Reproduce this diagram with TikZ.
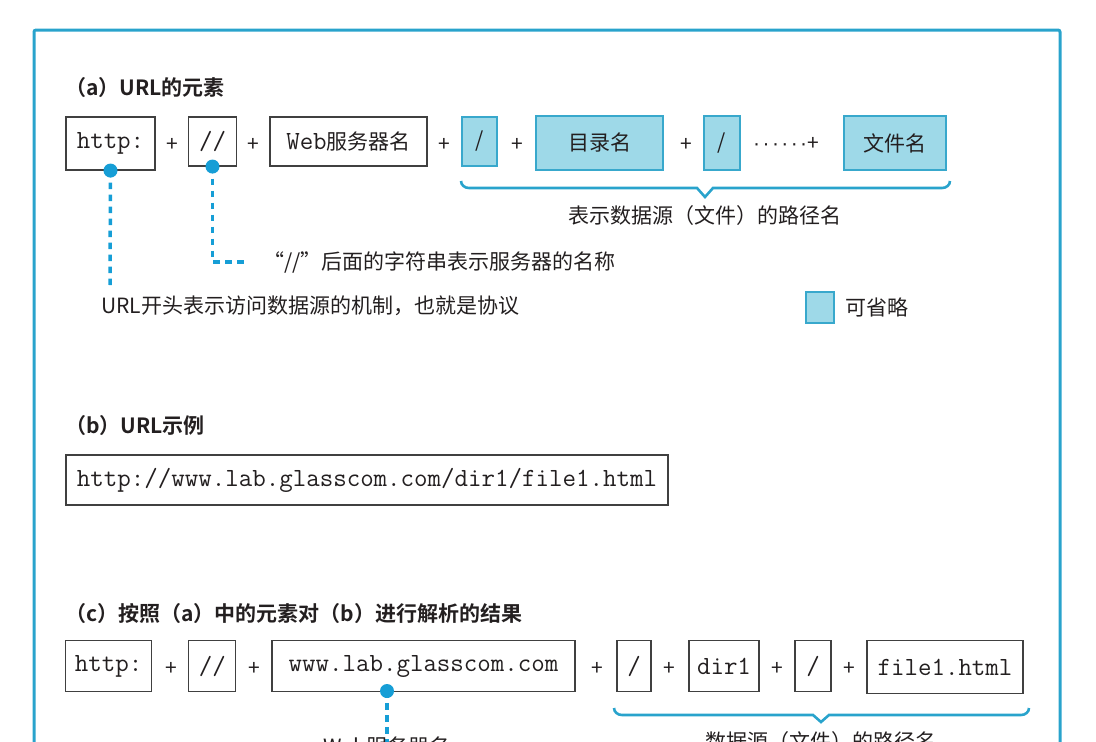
\documentclass[tikz,border=0pt]{standalone}
\usepackage{fontspec}
\setmainfont{Noto Sans CJK SC}[BoldFont={Noto Sans CJK SC Bold}]
\newfontfamily\dotfont{Liberation Sans}
\usetikzlibrary{positioning}

\definecolor{frame}{RGB}{41,163,204}
\definecolor{optfill}{RGB}{158,217,232}
\definecolor{optline}{RGB}{56,168,204}
\definecolor{dotc}{RGB}{22,158,214}
\definecolor{ink}{RGB}{35,31,32}

\newcommand\monotxt{\fontsize{26.2}{28}\selectfont\ttfamily}
\newcommand\bodytxt{\fontsize{21}{24}\selectfont\rmfamily}
\newcommand\moredots{\makebox[54pt]{\dotfont ·\hfill·\hfill·\hfill·\hfill·\hfill·}}

\begin{document}
\begin{tikzpicture}[x=1pt, y=-1pt,
  wh/.style 2 args={minimum width=#1pt, minimum height=#2pt},
  box/.style={draw=black!75, line width=1.1pt, fill=white, inner sep=0pt, text=ink, font=\monotxt},
  opt/.style={draw=optline, line width=1.1pt, fill=optfill, inner sep=0pt, text=ink, font=\bodytxt},
  head/.style={anchor=west, inner sep=0pt, text=ink, font=\fontsize{21}{24}\selectfont\bfseries},
  plus/.style={inner sep=0pt, text=ink, font=\bodytxt},
  note/.style={inner sep=0pt, text=ink, font=\bodytxt},
  dot/.style={circle, fill=dotc, minimum size=14pt, inner sep=0pt},
  lead/.style={draw=dotc, line width=3.5pt, dash pattern=on 6.5pt off 5.5pt},
  brace/.style={draw=frame, line width=2.6pt}]

\useasboundingbox (0,0) rectangle (1096,742);

% Frame (cut at the bottom)
\draw[frame, line width=3pt, rounded corners=2pt] (34,780) -- (34,30) -- (1060,30) -- (1060,780);

% (a) URL elements
\node[head] (heada) at (65,88) {（a）URL的元素};

\node[box, wh={89}{53}] (httpa) at (110.5,143.5) {http:};
\node[box, wh={48}{49}] (dsla) at (212.5,141.5) {//};
\node[box, wh={157}{49}] (srva) at (348.5,141.5) {Web{\bodytxt 服务器名}};
\node[opt, wh={35}{49}] (sla1) at (479.5,141.5) {/};
\node[opt, wh={127}{54}] (dira) at (599.5,143) {目录名};
\node[opt, wh={36}{54}] (sla2) at (722,143) {/};
\node[opt, wh={102}{54}] (filea) at (895,143) {文件名};

\foreach \x [count=\i] in {172,253,444,517,686}
  \node[plus] (pa\i) at (\x,145) {+};
\node[plus, anchor=west] (morea) at (753,144) {\moredots+};

% Brace under the path
\draw[brace] (461,181) to[out=-90,in=180] (469,188) -- (697,188) -- (705,197)
  -- (713,188) -- (942,188) to[out=0,in=-90] (950,181);
\node[note] (pathnote) at (705,216) {表示数据源（文件）的路径名};

% Notes
\coordinate (protoend) at (110,285);
\coordinate (srvend) at (247,262);
\draw[lead] (httpa.south) -- (protoend);
\draw[lead] (dsla.south) |- (srvend);
\node[dot] (dot1) at (httpa.south) {};
\node[dot] (dot2) at (dsla.south) {};
\node[note, anchor=west] (srvnote) at (263,262) {“//”后面的字符串表示服务器的名称};
\node[note, anchor=west] (protonote) at (101,306) {URL开头表示访问数据源的机制，也就是协议};

% Legend
\node[opt, wh={28}{31}] (legend) at (820,307.5) {};
\node[note, right=11pt of legend] (legendtxt) {可省略};

% (b) Example
\node[head] (headb) at (65,426) {（b）URL示例};
\node[box, wh={602}{50}] (urlb) at (367,480) {http://www.lab.glasscom.com/dir1/file1.html};

% (c) Result
\node[head] (headc) at (65,614) {（c）按照（a）中的元素对（b）进行解析的结果};

\node[box, wh={86}{51}] (httpc) at (108.7,666.2) {http:};
\node[box, wh={47}{51}] (dslc) at (212.3,666.2) {//};
\node[box, wh={303}{51}] (srvc) at (423.5,666.2) {www.lab.glasscom.com};
\node[box, wh={34}{51}] (slc1) at (634,666.2) {/};
\node[box, wh={70}{51}] (dirc) at (724,666.2) {dir1};
\node[box, wh={36}{51}] (slc2) at (813,666.2) {/};
\node[box, wh={156}{53}] (filec) at (945,667.3) {file1.html};

\foreach \x [count=\i] in {171,254,597,669,777,849}
  \node[plus] (pc\i) at (\x,669) {+};

\coordinate (srvcend) at (387,760);
\draw[lead] (387,691) -- (srvcend);
\node[dot] (dot3) at (387,691) {};
\node[note] (srvcnote) at (387,746) {Web服务器名};

\draw[brace] (614,708) to[out=-90,in=180] (622,715) -- (813,715) -- (821,722)
  -- (829,715) -- (1021,715) to[out=0,in=-90] (1029,708);
\node[note] (pathcnote) at (821,742) {数据源（文件）的路径名};

\end{tikzpicture}
\end{document}
